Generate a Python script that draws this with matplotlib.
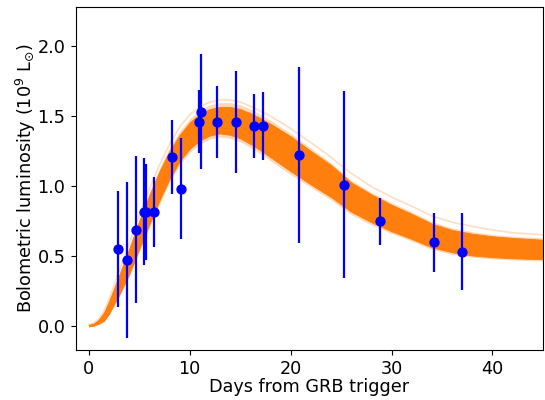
import numpy as np
import matplotlib
matplotlib.use("Agg")
import matplotlib.pyplot as plt

# --- observed data (days, luminosity in 1e9 Lsun, symmetric error) ---
obs_days = [2.93, 3.82, 4.64, 5.50, 5.67, 6.46, 8.23, 9.16, 10.94, 11.07,
            12.75, 14.56, 16.37, 17.26, 20.85, 25.27, 28.88, 34.25, 36.98]
obs_lum = [0.548, 0.467, 0.687, 0.815, 0.815, 0.815, 1.204, 0.980, 1.459, 1.530,
           1.457, 1.457, 1.430, 1.430, 1.221, 1.008, 0.746, 0.596, 0.529]
obs_err = [0.416, 0.558, 0.528, 0.384, 0.345, 0.250, 0.265, 0.360, 0.225, 0.410,
           0.260, 0.365, 0.230, 0.245, 0.630, 0.670, 0.170, 0.210, 0.277]

model_days = [0, 0.5, 1, 1.5, 2, 3, 4, 5, 6, 7, 8, 9, 10, 11, 12, 13, 14, 15,
              16, 17, 18, 20, 22, 24, 26, 28, 30, 32, 34, 36, 38, 40, 42, 45]
core_lo = [-0.006, 0.0, 0.015, 0.035, 0.085, 0.22, 0.37, 0.55, 0.725, 0.895,
           1.05, 1.175, 1.265, 1.325, 1.36, 1.375, 1.365, 1.34, 1.30, 1.255,
           1.205, 1.105, 1.01, 0.92, 0.815, 0.74, 0.675, 0.62, 0.56, 0.525,
           0.502, 0.49, 0.482, 0.475]
core_hi = [0.006, 0.016, 0.045, 0.095, 0.175, 0.36, 0.55, 0.75, 0.935, 1.105,
           1.25, 1.365, 1.455, 1.515, 1.55, 1.565, 1.565, 1.55, 1.52, 1.485,
           1.445, 1.355, 1.25, 1.15, 1.025, 0.94, 0.865, 0.80, 0.73, 0.685,
           0.658, 0.64, 0.628, 0.615]
edge_lo = [-0.006, 0.0, 0.012, 0.03, 0.078, 0.205, 0.35, 0.53, 0.70, 0.87,
           1.025, 1.15, 1.24, 1.30, 1.335, 1.35, 1.34, 1.315, 1.275, 1.23,
           1.18, 1.08, 0.99, 0.90, 0.795, 0.72, 0.66, 0.605, 0.545, 0.51,
           0.49, 0.478, 0.47, 0.463]
edge_hi = [0.006, 0.018, 0.05, 0.10, 0.185, 0.375, 0.57, 0.77, 0.955, 1.125,
           1.275, 1.39, 1.48, 1.54, 1.58, 1.595, 1.595, 1.58, 1.55, 1.51,
           1.47, 1.375, 1.27, 1.165, 1.04, 0.955, 0.88, 0.815, 0.745, 0.70,
           0.672, 0.652, 0.64, 0.628]
outlier_hi = [0.006, 0.02, 0.05, 0.105, 0.19, 0.39, 0.59, 0.79, 0.98, 1.15,
              1.30, 1.42, 1.51, 1.565, 1.60, 1.615, 1.615, 1.60, 1.57, 1.535,
              1.50, 1.41, 1.31, 1.205, 1.09, 0.995, 0.92, 0.855, 0.785, 0.74,
              0.71, 0.685, 0.665, 0.65]

xlabel = "Days from GRB trigger"
ylabel = r"Bolometric luminosity (10$^9$ L$_{\odot}$)"

fig = plt.figure(figsize=(5.45, 4.0), dpi=100)
ax = fig.add_axes([0.139, 0.125, 0.857, 0.858])

orange = "#ff7f0e"
ax.plot(model_days, outlier_hi, color=orange, alpha=0.25, lw=1.2)
ax.fill_between(model_days, edge_lo, edge_hi, color=orange, alpha=0.3, lw=0)
ax.fill_between(model_days, core_lo, core_hi, color=orange, alpha=1.0, lw=0.6,
                edgecolor=orange)

ax.errorbar(obs_days, obs_lum, yerr=obs_err, fmt="o", color="b", ecolor="b",
            markersize=6.4, elinewidth=1.6, capsize=0, zorder=5)

ax.set_xlim(-1.3, 45)
ax.set_ylim(-0.174, 2.281)
ax.set_xticks([0, 10, 20, 30, 40])
ax.set_yticks([0.0, 0.5, 1.0, 1.5, 2.0])
ax.tick_params(labelsize=12.7, length=3.7, pad=3.7)
ax.set_xlabel(xlabel, fontsize=12.7, labelpad=0)
ax.set_ylabel(ylabel, fontsize=12.7, labelpad=0)

fig.savefig("out.png", dpi=100)
